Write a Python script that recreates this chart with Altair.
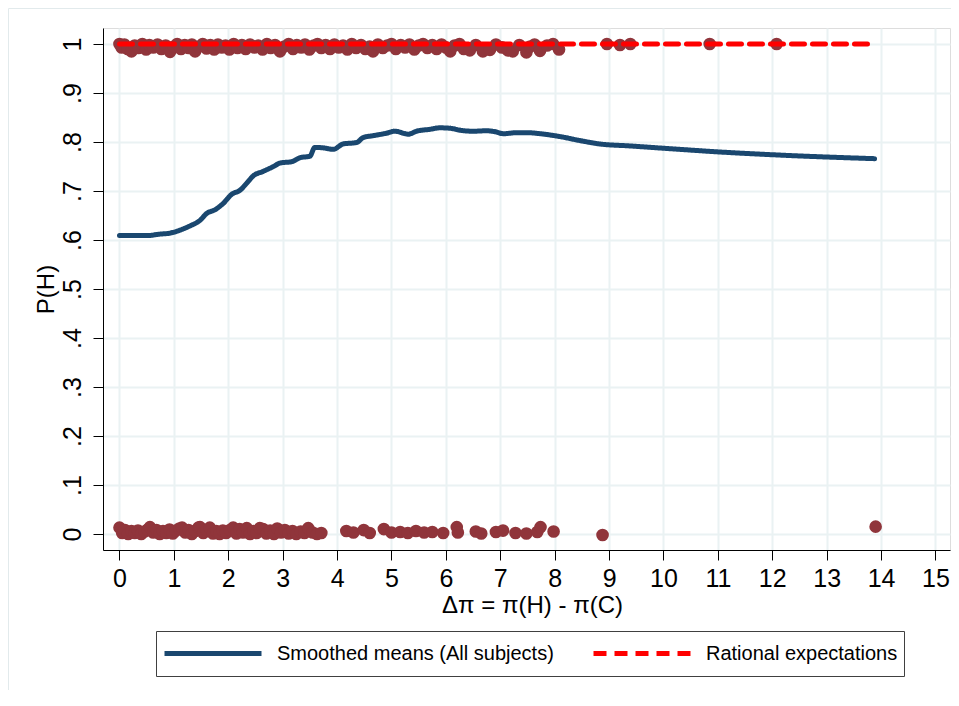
import altair as alt
import pandas as pd

# ---------------- data ----------------
x_ticks = list(range(16))
y_ticks = [0, 0.1, 0.2, 0.3, 0.4, 0.5, 0.6, 0.7, 0.8, 0.9, 1.0]

series_names = ["Smoothed means (All subjects)", "Rational expectations"]

# observed choices of H (jittered at 1)
top_pts = [
    (0.00, 1.000), (0.04, 0.993), (0.09, 0.999), (0.15, 0.990), (0.22, 0.985),
    (0.28, 0.997), (0.35, 0.992), (0.42, 1.000), (0.49, 0.989), (0.55, 0.998),
    (0.62, 0.993), (0.70, 0.999), (0.77, 0.990), (0.85, 0.997), (0.93, 0.984),
    (1.00, 0.995), (1.06, 1.000), (1.13, 0.990), (1.20, 0.998), (1.27, 0.992),
    (1.33, 0.999), (1.39, 0.985), (1.46, 0.995), (1.53, 1.000), (1.60, 0.991),
    (1.67, 0.998), (1.74, 0.989), (1.81, 0.999), (1.88, 0.993), (1.95, 0.997),
    (2.02, 0.989), (2.10, 1.000), (2.17, 0.992), (2.25, 0.998), (2.32, 0.990),
    (2.40, 0.999), (2.48, 0.993), (2.55, 0.997), (2.63, 0.989), (2.71, 1.000),
    (2.78, 0.992), (2.86, 0.998), (2.95, 0.985), (3.03, 0.995), (3.11, 1.000),
    (3.19, 0.990), (3.26, 0.998), (3.34, 0.993), (3.41, 0.999), (3.49, 0.989),
    (3.57, 0.997), (3.64, 1.000), (3.71, 0.992), (3.79, 0.998), (3.87, 0.990),
    (3.95, 0.999), (4.03, 0.993), (4.11, 0.997), (4.19, 0.989), (4.27, 1.000),
    (4.35, 0.992), (4.44, 0.998), (4.52, 0.990), (4.60, 0.995), (4.66, 0.985),
    (4.75, 0.999), (4.84, 0.992), (4.92, 0.997), (5.00, 1.000), (5.08, 0.990),
    (5.17, 0.998), (5.25, 0.993), (5.33, 0.999), (5.42, 0.989), (5.50, 0.997),
    (5.58, 1.000), (5.66, 0.992), (5.75, 0.998), (5.83, 0.990), (5.92, 0.999),
    (6.00, 0.993), (6.08, 0.985), (6.16, 0.997), (6.25, 1.000), (6.33, 0.990),
    (6.44, 0.987), (6.55, 0.998), (6.68, 0.985), (6.81, 0.988), (6.92, 0.999),
    (7.03, 0.993), (7.14, 0.987), (7.23, 0.985), (7.35, 0.998), (7.48, 0.983),
    (7.55, 0.995), (7.63, 0.999), (7.73, 0.986), (7.86, 0.997), (7.97, 1.000),
    (8.08, 0.989), (8.96, 1.000), (9.20, 0.998), (9.39, 1.000), (10.85, 1.000),
    (12.08, 1.000),
]

# observed choices of C (jittered at 0)
bottom_pts = [
    (0.00, 0.013), (0.05, 0.002), (0.10, 0.008), (0.16, 0.000), (0.22, 0.006),
    (0.28, 0.002), (0.34, 0.007), (0.40, 0.000), (0.46, 0.005), (0.52, 0.009),
    (0.56, 0.014), (0.62, 0.003), (0.68, 0.008), (0.74, 0.000), (0.80, 0.006),
    (0.86, 0.002), (0.92, 0.009), (0.98, 0.001), (1.04, 0.007), (1.10, 0.011),
    (1.15, 0.013), (1.21, 0.003), (1.27, 0.008), (1.33, 0.000), (1.39, 0.006),
    (1.45, 0.013), (1.48, 0.014), (1.54, 0.002), (1.60, 0.008), (1.66, 0.013),
    (1.72, 0.001), (1.78, 0.006), (1.84, 0.000), (1.90, 0.007), (1.96, 0.002),
    (2.03, 0.008), (2.09, 0.013), (2.15, 0.001), (2.21, 0.010), (2.27, 0.003),
    (2.34, 0.012), (2.40, 0.000), (2.46, 0.006), (2.52, 0.002), (2.58, 0.012),
    (2.64, 0.010), (2.70, 0.001), (2.77, 0.007), (2.84, 0.000), (2.90, 0.011),
    (2.97, 0.003), (3.04, 0.008), (3.11, 0.001), (3.18, 0.006), (3.25, 0.000),
    (3.33, 0.005), (3.40, 0.002), (3.47, 0.012), (3.55, 0.003), (3.63, 0.000),
    (3.71, 0.002),
    (4.17, 0.006), (4.30, 0.003), (4.49, 0.008), (4.60, 0.002), (4.86, 0.010),
    (5.00, 0.003), (5.16, 0.004), (5.30, 0.002), (5.45, 0.006), (5.60, 0.003),
    (5.75, 0.004), (5.95, 0.002), (6.20, 0.014), (6.22, 0.003), (6.55, 0.005),
    (6.65, 0.001), (6.92, 0.004), (7.05, 0.007), (7.28, 0.002), (7.48, 0.001),
    (7.68, 0.004), (7.74, 0.014), (7.98, 0.005), (8.88, -0.002), (13.90, 0.015),
]

smooth_x = [0.00, 0.25, 0.51, 0.74, 0.93, 1.11, 1.30, 1.48, 1.60, 1.76, 1.91,
            2.06, 2.22, 2.34, 2.46, 2.64, 2.83, 2.95, 3.17, 3.32, 3.50, 3.59,
            3.75, 3.93, 4.11, 4.36, 4.48, 4.67, 4.91, 5.06, 5.31, 5.46, 5.71,
            5.89, 6.08, 6.26, 6.50, 6.75, 6.90, 7.06, 7.30, 7.49, 7.73, 8.10,
            8.46, 8.83, 9.38, 10.30, 10.98, 12.20, 13.88]
smooth_y = [0.609, 0.609, 0.609, 0.612, 0.614, 0.620, 0.629, 0.640, 0.654,
            0.662, 0.675, 0.693, 0.702, 0.716, 0.731, 0.740, 0.750, 0.757,
            0.760, 0.768, 0.771, 0.789, 0.788, 0.785, 0.796, 0.799, 0.809,
            0.813, 0.818, 0.822, 0.816, 0.822, 0.826, 0.829, 0.828, 0.824,
            0.822, 0.823, 0.821, 0.817, 0.819, 0.819, 0.817, 0.811, 0.803,
            0.796, 0.792, 0.785, 0.780, 0.773, 0.766]

rational_x = [0.00, 13.88]
rational_y = [1.0, 1.0]

# ---------------- frames ----------------
pts = pd.DataFrame(top_pts + bottom_pts, columns=["x", "y"])
smooth = pd.DataFrame({"x": smooth_x, "y": smooth_y, "series": series_names[0]})
rational = pd.DataFrame({"x": rational_x, "y": rational_y, "series": series_names[1]})
frame = pd.DataFrame({"k": [0]})

FONT = "Liberation Sans"
GRID = "#EAF2F3"

x_scale = alt.Scale(domain=[-0.303, 15.267], nice=False, zero=False)
y_scale = alt.Scale(domain=[-0.0327, 1.0327], nice=False, zero=False)

x_axis = alt.Axis(
    values=x_ticks, title="Δπ = π(H) - π(C)", grid=True, gridColor=GRID, gridWidth=2,
    domainColor="black", domainWidth=1, tickColor="black", tickSize=10, tickWidth=1,
    labelFontSize=25, labelFont=FONT, labelColor="black", labelPadding=6,
    labelOverlap=False, labelFlush=False,
    titleFontSize=24, titleFont=FONT, titleFontWeight="normal", titleColor="black",
    titleBaseline="alphabetic", titleX=429, titleY=62,
)
y_axis = alt.Axis(
    values=y_ticks, title="P(H)", grid=True, gridColor=GRID, gridWidth=2,
    domainColor="black", domainWidth=1, tickColor="black", tickSize=10, tickWidth=1,
    labelFontSize=25, labelFont=FONT, labelColor="black", labelPadding=13,
    labelAngle=270, labelAlign="center", labelBaseline="alphabetic",
    labelOverlap=False, labelFlush=False,
    labelExpr="datum.value == 0 ? '0' : (datum.value >= 0.999 ? '1' : replace(format(datum.value, '.1f'), '0.', '.'))",
    titleFontSize=24, titleFont=FONT, titleFontWeight="normal", titleColor="black",
    titleAngle=270, titleBaseline="middle", titleX=-57, titleY=261,
)

x_enc = alt.X("x:Q", scale=x_scale, axis=x_axis)
y_enc = alt.Y("y:Q", scale=y_scale, axis=y_axis)

legend = alt.Legend(
    title=None, orient="none", legendX=53, legendY=603, direction="horizontal",
    symbolType="stroke", symbolSize=9409, symbolStrokeWidth=5, clipHeight=33,
    labelFontSize=20, labelFont=FONT, labelColor="black", labelOffset=13,
    labelLimit=1000, columnPadding=37, padding=6, strokeColor="#404040",
)
color_enc = alt.Color("series:N", scale=alt.Scale(domain=series_names, range=["#1A476F", "#FF0000"]), legend=legend)
dash_enc = alt.StrokeDash("series:N", scale=alt.Scale(domain=series_names, range=[[1, 0], [13, 8]]), legend=legend)

# light outline of the graph region (only its top and left edges fall inside the picture)
border = alt.Chart(frame).mark_rect(fillOpacity=0, stroke="#E2EAEC", strokeWidth=1).encode(
    x=alt.value(-94.5), x2=alt.value(920), y=alt.value(-19.5), y2=alt.value(720)
)

points = alt.Chart(pts).mark_circle(size=160, color="#90353B", opacity=1).encode(x=x_enc, y=y_enc)

smooth_line = alt.Chart(smooth).mark_line(
    strokeWidth=5, strokeCap="round", strokeJoin="round", interpolate="monotone"
).encode(x=x_enc, y=y_enc, color=color_enc, strokeDash=dash_enc)
rational_line = alt.Chart(rational).mark_line(strokeWidth=5, strokeCap="round").encode(
    x=x_enc, y=y_enc, color=color_enc, strokeDash=dash_enc
)

chart = alt.layer(border, points, smooth_line, rational_line).properties(
    width=847, height=522,
    autosize=alt.AutoSizeParams(type="none"),
    padding={"left": 95, "top": 20, "right": 1, "bottom": 140},
    background="white",
).configure_view(stroke=None).configure(font=FONT)

chart.save("out.html", embed_options={"renderer": "svg", "actions": False})
